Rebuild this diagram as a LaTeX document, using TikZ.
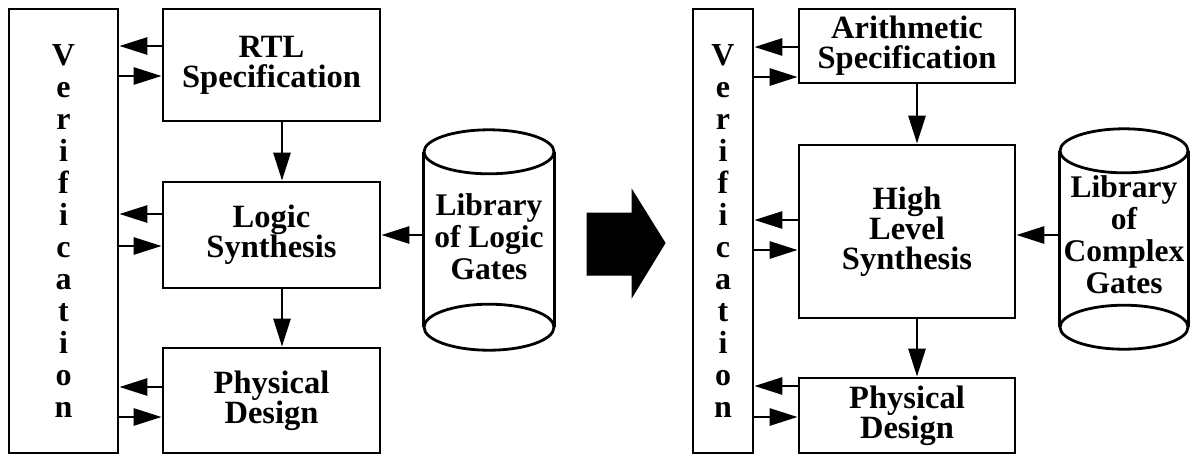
\documentclass[tikz,border=0pt]{standalone}
\usepackage{fontspec}
\setmainfont{Liberation Serif}
\usetikzlibrary{arrows.meta}
\tikzset{
  box/.style={draw, line width=2.8pt, align=center, inner sep=0pt,
    font=\bfseries\fontsize{32.5}{30}\selectfont},
  vbox/.style={draw, line width=2.8pt, align=center, inner sep=0pt,
    font=\bfseries\fontsize{32}{32}\selectfont},
  libtext/.style={align=center, inner sep=0pt,
    font=\bfseries\fontsize{31.5}{32}\selectfont},
  libshape/.style={inner sep=0pt},
  arr/.style={line width=2.8pt, -{Triangle[length=28pt,width=17pt]}},
  cyl/.style={line width=2.8pt},
  bigarrow/.style={fill=black, draw=black, line width=1pt},
}
\begin{document}
\begin{tikzpicture}[x=1pt,y=1pt]
\useasboundingbox (0,0) rectangle (1190,-456);

% ---------- left flow ----------
\node[vbox, minimum width=109pt, minimum height=444pt] (verL) at (63.5,-231)
  {V\\e\\r\\i\\f\\i\\c\\a\\t\\i\\o\\n};
\node[box, minimum width=217pt, minimum height=112pt] (rtl) at (271.5,-65)
  {RTL\\Specification};
\node[box, minimum width=217pt, minimum height=106pt] (logic) at (271.5,-235)
  {Logic\\Synthesis};
\node[box, minimum width=217pt, minimum height=105pt] (physL) at (271.5,-400.5)
  {Physical\\Design};

% cylinder left
\node[libshape, minimum width=130pt, minimum height=175pt] (libL) at (489,-239.5) {};
\node[libtext] (libLtxt) at ([yshift=3pt]libL.center) {Library\\of Logic\\Gates};
\draw[cyl] (libL.north west) -- (libL.south west);
\draw[cyl] (libL.north east) -- (libL.south east);
\draw[cyl] (libL.north) ellipse [x radius=65pt, y radius=22pt];
\draw[cyl] (libL.south) ellipse [x radius=65pt, y radius=23pt];

\draw[arr] ([xshift=10.5pt]rtl.south) -- ([xshift=10.5pt]logic.north);
\draw[arr] ([xshift=10.5pt]logic.south) -- ([xshift=10.5pt]physL.north);

\draw[arr] ([yshift=19pt]rtl.west) -- ([yshift=19pt]rtl.west -| verL.east);
\draw[arr] ([yshift=-11pt]rtl.west -| verL.east) -- ([yshift=-11pt]rtl.west);
\draw[arr] ([yshift=21pt]logic.west) -- ([yshift=21pt]logic.west -| verL.east);
\draw[arr] ([yshift=-11pt]logic.west -| verL.east) -- ([yshift=-11pt]logic.west);
\draw[arr] ([yshift=13.5pt]physL.west) -- ([yshift=13.5pt]physL.west -| verL.east);
\draw[arr] ([yshift=-16.5pt]physL.west -| verL.east) -- ([yshift=-16.5pt]physL.west);
\draw[arr] ([yshift=4.5pt]libL.west) -- ([yshift=4.5pt]libL.west -| logic.east);

% ---------- big arrow ----------
\fill[bigarrow] (587,-213) -- (632,-213) -- (632,-190) -- (665,-243)
  -- (632,-297) -- (632,-275) -- (587,-275) -- cycle;

% ---------- right flow ----------
\node[vbox, minimum width=60pt, minimum height=444pt] (verR) at (723,-231)
  {V\\e\\r\\i\\f\\i\\c\\a\\t\\i\\o\\n};
\node[box, minimum width=216pt, minimum height=74pt] (arith) at (907,-46)
  {Arithmetic\\Specification};
\node[box, minimum width=216pt, minimum height=173pt] (hls) at (907,-231.5)
  {High\\Level\\Synthesis};
\node[box, minimum width=216pt, minimum height=75pt] (physR) at (907,-415.5)
  {Physical\\Design};

% cylinder right
\node[libshape, minimum width=128pt, minimum height=176pt] (libR) at (1124,-239) {};
\node[libtext] (libRtxt) at ([yshift=4pt]libR.center) {Library\\of\\Complex\\Gates};
\draw[cyl] (libR.north west) -- (libR.south west);
\draw[cyl] (libR.north east) -- (libR.south east);
\draw[cyl] (libR.north) ellipse [x radius=64pt, y radius=22pt];
\draw[cyl] (libR.south) ellipse [x radius=64pt, y radius=22pt];

\draw[arr] ([xshift=10pt]arith.south) -- ([xshift=10pt]hls.north);
\draw[arr] ([xshift=10pt]hls.south) -- ([xshift=10pt]physR.north);

\draw[arr] ([yshift=-1pt]arith.west) -- ([yshift=-1pt]arith.west -| verR.east);
\draw[arr] ([yshift=-31pt]arith.west -| verR.east) -- ([yshift=-31pt]arith.west);
\draw[arr] ([yshift=11.5pt]hls.west) -- ([yshift=11.5pt]hls.west -| verR.east);
\draw[arr] ([yshift=-18.5pt]hls.west -| verR.east) -- ([yshift=-18.5pt]hls.west);
\draw[arr] ([yshift=29.5pt]physR.west) -- ([yshift=29.5pt]physR.west -| verR.east);
\draw[arr] ([yshift=-1.5pt]physR.west -| verR.east) -- ([yshift=-1.5pt]physR.west);
\draw[arr] ([yshift=4pt]libR.west) -- ([yshift=4pt]libR.west -| hls.east);
\end{tikzpicture}
\end{document}
